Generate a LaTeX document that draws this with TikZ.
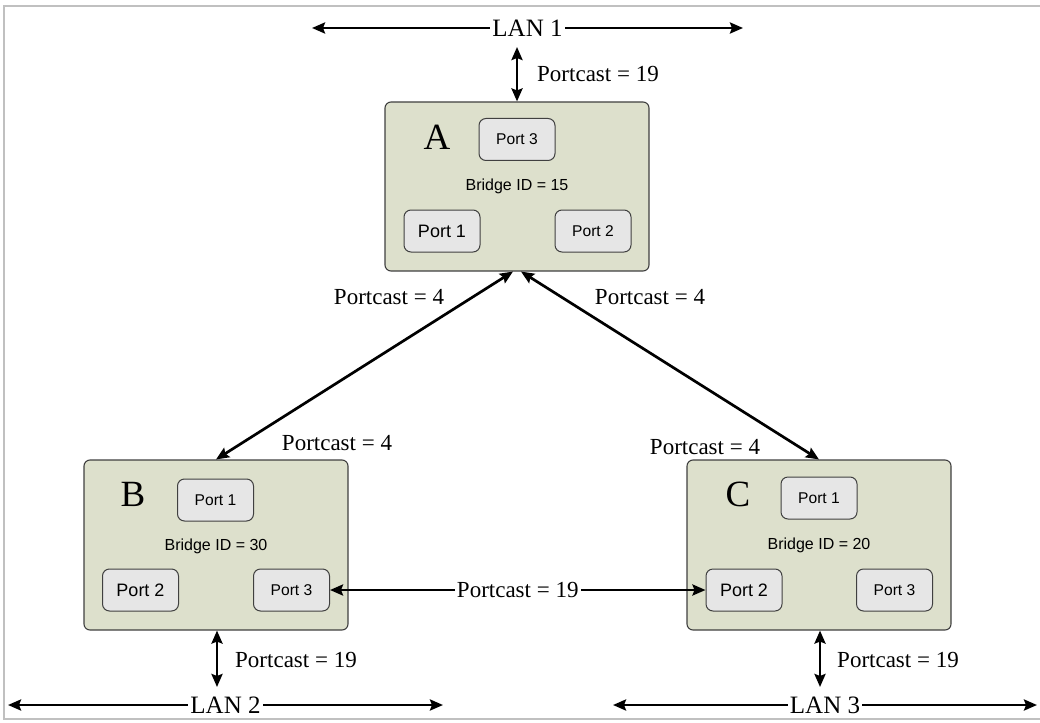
\documentclass[tikz,border=0pt]{standalone}
\usepackage{fontspec}
\setmainfont{Liberation Serif}
\setsansfont{Liberation Sans}
\usetikzlibrary{arrows.meta,calc}
\definecolor{boxfill}{RGB}{221,224,204}
\definecolor{portfill}{RGB}{230,230,230}
\definecolor{edge}{RGB}{64,64,64}
\definecolor{frame}{RGB}{192,192,192}
\begin{document}
\begin{tikzpicture}[x=1pt,y=-1pt,
  bridge/.style={draw=edge,fill=boxfill,rounded corners=6pt,line width=1.1pt,minimum width=264pt,minimum height=170pt,inner sep=0pt},
  port/.style={draw=edge,fill=portfill,rounded corners=7pt,line width=1pt,minimum width=76pt,minimum height=42pt,inner sep=0pt,font=\sffamily\fontsize{15.6}{18}\selectfont},
  bigport/.style={port,font=\sffamily\fontsize{18}{21}\selectfont},
  letter/.style={font=\fontsize{37}{40}\selectfont,inner sep=0pt},
  bid/.style={font=\sffamily\fontsize{16}{19}\selectfont,inner sep=0pt},
  cost/.style={font=\fontsize{23}{27}\selectfont,inner sep=1pt},
  lan/.style={font=\fontsize{25}{29}\selectfont,fill=white,inner sep=2pt},
  link/.style={line width=2.7pt,{Stealth[length=13pt,width=11pt,inset=2pt]}-{Stealth[length=13pt,width=11pt,inset=2pt]}}
]
\useasboundingbox (0,0) rectangle (1040,722);
\draw[frame,line width=2pt] (1041,6) -- (4,6) -- (4,719) -- (1041,719);

% Bridges
\node[bridge,minimum height=169pt] (A) at (517,186.5) {};
\node[bridge] (B) at (216,545) {};
\node[bridge] (C) at (819,545) {};

% Bridge A
\node[letter] (Al) at (437,137) {A};
\node[port] (A3) at (517,139.5) {Port 3};
\node[bid] (Aid) at (517,186) {Bridge ID = 15};
\node[bigport] (A1) at (442,231) {Port 1};
\node[port] (A2) at (593,231) {Port 2};

% Bridge B
\node[letter] (Bl) at (133,494) {B};
\node[port] (B1) at (215.5,500) {Port 1};
\node[bid] (Bid) at (216,546) {Bridge ID = 30};
\node[bigport] (B2) at (140.5,590) {Port 2};
\node[port] (B3) at (291.5,590) {Port 3};

% Bridge C
\node[letter] (Cl) at (738,494) {C};
\node[port] (C1) at (819,498) {Port 1};
\node[bid] (Cid) at (819,545) {Bridge ID = 20};
\node[bigport] (C2) at (744,590) {Port 2};
\node[port] (C3) at (894.5,590) {Port 3};

% LANs
\coordinate (L1w) at (312,28);
\coordinate (L1e) at (743,28);
\draw[link] (L1w) -- (L1e) node[lan,midway] (L1) {LAN 1};
\coordinate (L2w) at (8,705);
\coordinate (L2e) at (443,705);
\draw[link] (L2w) -- (L2e) node[lan,midway] (L2) {LAN 2};
\coordinate (L3w) at (613,705);
\coordinate (L3e) at (1037,705);
\draw[link] (L3w) -- (L3e) node[lan,midway] (L3) {LAN 3};

% LAN attachments
\coordinate (A0) at (517,47);
\draw[link] (A0) -- (A.north);
\node[cost,anchor=west] (cA) at (536,74) {Portcast = 19};
\coordinate (B0) at (217,687);
\draw[link] (B.south -| B0) -- (B0);
\node[cost,anchor=west] (cB) at (234,660) {Portcast = 19};
\coordinate (C0) at (820,687);
\draw[link] (C.south -| C0) -- (C0);
\node[cost,anchor=west] (cC) at (836,660) {Portcast = 19};

% Bridge-to-bridge links
\draw[link] ($(A.south)+(-4,0)$) -- (B.north);
\draw[link] ($(A.south)+(4,0)$) -- (C.north);
\node[cost] (cAB1) at (389,297) {Portcast = 4};
\node[cost] (cAC1) at (650,297) {Portcast = 4};
\node[cost] (cAB2) at (337,443) {Portcast = 4};
\node[cost] (cAC2) at (705,447) {Portcast = 4};
\draw[link] (B3.east) -- (C2.west) node[midway,cost,fill=white,inner sep=2pt] (cBC) {Portcast = 19};
\end{tikzpicture}
\end{document}
